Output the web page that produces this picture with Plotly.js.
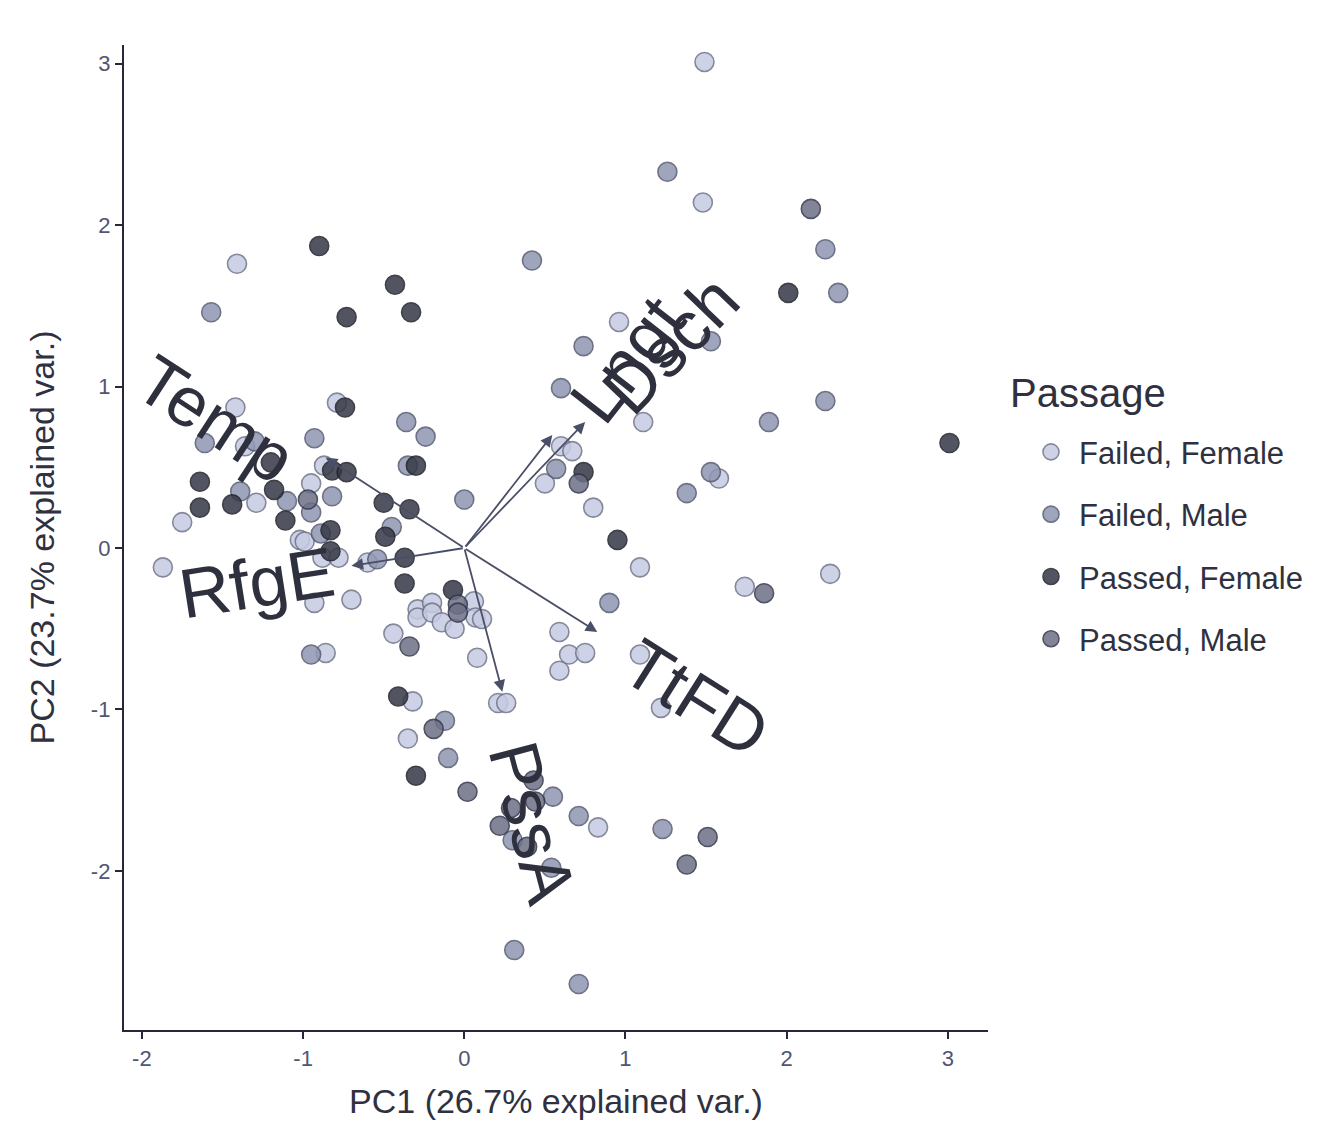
<!DOCTYPE html>
<html>
<head>
<meta charset="utf-8">
<script src="https://cdn.plot.ly/plotly-3.0.1.min.js"></script>
<style>html,body{margin:0;padding:0;background:#fff;}#chart{width:1332px;height:1132px;}</style>
</head>
<body>
<div id="chart"></div>
<script>
// ---- Data ----
const groupNames = ["Failed, Female", "Failed, Male", "Passed, Female", "Passed, Male"];
const legendTitle = "Passage";

const ffX = [1.49, 1.48, -1.41, 0.96, 1.11, 0.60, 0.67, 0.50, 0.80, 1.09, 1.58, 2.27, 1.74, 0.59, 0.65, 0.75, 0.59, 1.09, 1.22, 0.21, 0.26, 0.08, -0.32, -0.35, 0.83, -1.42, -0.79, -1.36, -0.87, -0.95, -1.29, -1.75, -1.02, -0.99, -0.88, -0.78, -0.60, -1.87, -0.93, -0.70, -0.44, -0.86, -0.29, -0.29, -0.20, -0.20, -0.14, -0.06, 0.06, 0.07, 0.11];
const ffY = [3.01, 2.14, 1.76, 1.40, 0.78, 0.63, 0.60, 0.40, 0.25, -0.12, 0.43, -0.16, -0.24, -0.52, -0.66, -0.65, -0.76, -0.66, -0.99, -0.96, -0.96, -0.68, -0.95, -1.18, -1.73, 0.87, 0.90, 0.63, 0.51, 0.40, 0.28, 0.16, 0.05, 0.04, -0.06, -0.06, -0.09, -0.12, -0.34, -0.32, -0.53, -0.65, -0.38, -0.43, -0.34, -0.40, -0.46, -0.50, -0.33, -0.43, -0.44];

const fmX = [1.26, 2.24, 2.32, 0.42, -1.57, 0.74, 0.60, -0.36, -0.24, -0.35, 0.57, 0.00, 1.38, 0.90, 1.53, 2.24, 1.89, 1.53, 1.23, -0.12, -0.10, 0.55, 0.71, 0.30, 0.54, 0.31, 0.71, -1.61, -0.93, -1.30, -1.39, -1.10, -0.82, -0.95, -0.89, -0.45, -0.54, -0.95];
const fmY = [2.33, 1.85, 1.58, 1.78, 1.46, 1.25, 0.99, 0.78, 0.69, 0.51, 0.49, 0.30, 0.34, -0.34, 1.28, 0.91, 0.78, 0.47, -1.74, -1.07, -1.30, -1.54, -1.66, -1.81, -1.98, -2.49, -2.70, 0.65, 0.68, 0.66, 0.35, 0.29, 0.32, 0.22, 0.09, 0.13, -0.07, -0.66];

const pfX = [2.01, 3.01, -0.90, -0.43, -0.73, -0.33, -0.30, 0.74, -0.34, 0.95, -0.37, -0.37, -0.07, -0.74, -1.20, -0.82, -0.73, -1.64, -1.18, -1.64, -1.44, -1.11, -0.83, -0.83, -0.50, -0.49, -0.41, -0.30];
const pfY = [1.58, 0.65, 1.87, 1.63, 1.43, 1.46, 0.51, 0.47, 0.24, 0.05, -0.06, -0.22, -0.26, 0.87, 0.53, 0.48, 0.47, 0.41, 0.36, 0.25, 0.27, 0.17, 0.11, -0.02, 0.28, 0.07, -0.92, -1.41];

const pmX = [2.15, 0.71, 1.86, 1.51, 1.38, -0.34, -0.19, 0.02, 0.43, 0.44, 0.29, 0.22, 0.39, -0.97, -0.04, -0.04];
const pmY = [2.10, 0.40, -0.28, -1.79, -1.96, -0.61, -1.12, -1.51, -1.44, -1.57, -1.61, -1.72, -1.85, 0.30, -0.35, -0.40];

// loading arrows (variable vectors)
const varNames = ["Temp", "RfgE", "Lngt", "Dsch", "TtFD", "PssA"];
const varX = [-0.86, -0.70, 0.546, 0.75, 0.825, 0.236];
const varY = [0.56, -0.11, 0.70, 0.78, -0.52, -0.89];

const xTickVals = [-2, -1, 0, 1, 2, 3];
const yTickVals = [-2, -1, 0, 1, 2, 3];

// ---- Styles ----
const fillColors = ["#c6cbe3", "#8f96b2", "#353846", "#6c7086"];
const lineColors = ["#707489", "#555a70", "#1e2029", "#33364a"];
const labelFontSize = 70;
const labelFont = "Liberation Sans, Arial, sans-serif";
// pixel nudges of the variable labels (right, down)
const labelNudgeX = [-3, 15, 8, 0, 8, 8];
const labelNudgeY = [22, -8, -3, 0, 0, 15];

const xs = [ffX, fmX, pfX, pmX];
const ys = [ffY, fmY, pfY, pmY];

const traces = groupNames.map((name, i) => ({
  type: "scatter",
  mode: "markers",
  name: name,
  legendgroup: "g" + i,
  x: xs[i],
  y: ys[i],
  marker: {
    size: 19,
    color: fillColors[i],
    opacity: 0.85,
    line: {color: lineColors[i], width: 1.6}
  },
  hoverinfo: "x+y+name"
}));

// measure label widths to place labels just beyond the arrow tips (ggbiplot-like hjust)
const cv = document.createElement("canvas").getContext("2d");
cv.font = labelFontSize + "px " + labelFont;
const pxPerUnit = 161.4;

const annotations = [];
varNames.forEach((nm, i) => {
  const vx = varX[i], vy = varY[i];
  annotations.push({
    x: vx, y: vy, ax: 0, ay: 0,
    xref: "x", yref: "y", axref: "x", ayref: "y",
    text: "", showarrow: true,
    arrowhead: 2, arrowsize: 1.3, arrowwidth: 1.8,
    arrowcolor: "#4a4f67"
  });
  const w = cv.measureText(nm).width; // px
  const len = Math.sqrt(vx * vx + vy * vy);
  const ux = vx / len, uy = vy / len;
  const d = (0.72 * w) / pxPerUnit;
  const sgn = vx > 0 ? 1 : -1;
  const px = sgn * uy, py = -sgn * ux;
  const perp = 8 / pxPerUnit;
  const ang = -Math.atan(vy / vx) * 180 / Math.PI;
  annotations.push({
    x: vx + ux * d + px * perp + labelNudgeX[i] / pxPerUnit,
    y: vy + uy * d + py * perp - labelNudgeY[i] / pxPerUnit,
    xref: "x", yref: "y",
    text: nm, showarrow: false,
    textangle: ang,
    xanchor: "center", yanchor: "middle",
    font: {family: labelFont, size: labelFontSize, color: "#2e303d"}
  });
});

annotations.push({
  x: 1.0231, y: 0.6467, xref: "paper", yref: "paper",
  xanchor: "left", yanchor: "middle",
  text: legendTitle, showarrow: false,
  font: {family: "Liberation Sans, Arial, sans-serif", size: 40, color: "#2f3140"}
});

const layout = {
  width: 1332, height: 1132,
  paper_bgcolor: "#ffffff",
  plot_bgcolor: "#ffffff",
  margin: {l: 124, r: 344, t: 45, b: 102},
  font: {family: "Liberation Sans, Arial, sans-serif"},
  xaxis: {
    range: [-2.111, 3.249],
    tickvals: xTickVals,
    ticktext: xTickVals.map(String),
    showgrid: false, zeroline: false,
    showline: true, linecolor: "#262838", linewidth: 2.2,
    ticks: "outside", ticklen: 7, tickwidth: 2, tickcolor: "#262838",
    tickfont: {size: 22, color: "#4f5573"},
    title: {text: "PC1 (26.7% explained var.)", font: {size: 34, color: "#2f3140"}, standoff: 20}
  },
  yaxis: {
    range: [-2.985, 3.115],
    tickvals: yTickVals,
    ticktext: yTickVals.map(String),
    showgrid: false, zeroline: false,
    showline: true, linecolor: "#262838", linewidth: 2.2,
    ticks: "outside", ticklen: 7, tickwidth: 2, tickcolor: "#262838",
    tickfont: {size: 22, color: "#4f5573"},
    title: {text: "PC2 (23.7% explained var.)", font: {size: 34, color: "#2f3140"}, standoff: 26}
  },
  showlegend: true,
  legend: {
    x: 1.0405, xanchor: "left",
    y: 0.614, yanchor: "top",
    font: {size: 31, color: "#2f3140"},
    tracegroupgap: 19,
    traceorder: "grouped",
    itemsizing: "trace",
    itemwidth: 46,
    bgcolor: "rgba(0,0,0,0)"
  },
  annotations: annotations
};

Plotly.newPlot("chart", traces, layout, {displayModeBar: false, staticPlot: true});
</script>
</body>
</html>
